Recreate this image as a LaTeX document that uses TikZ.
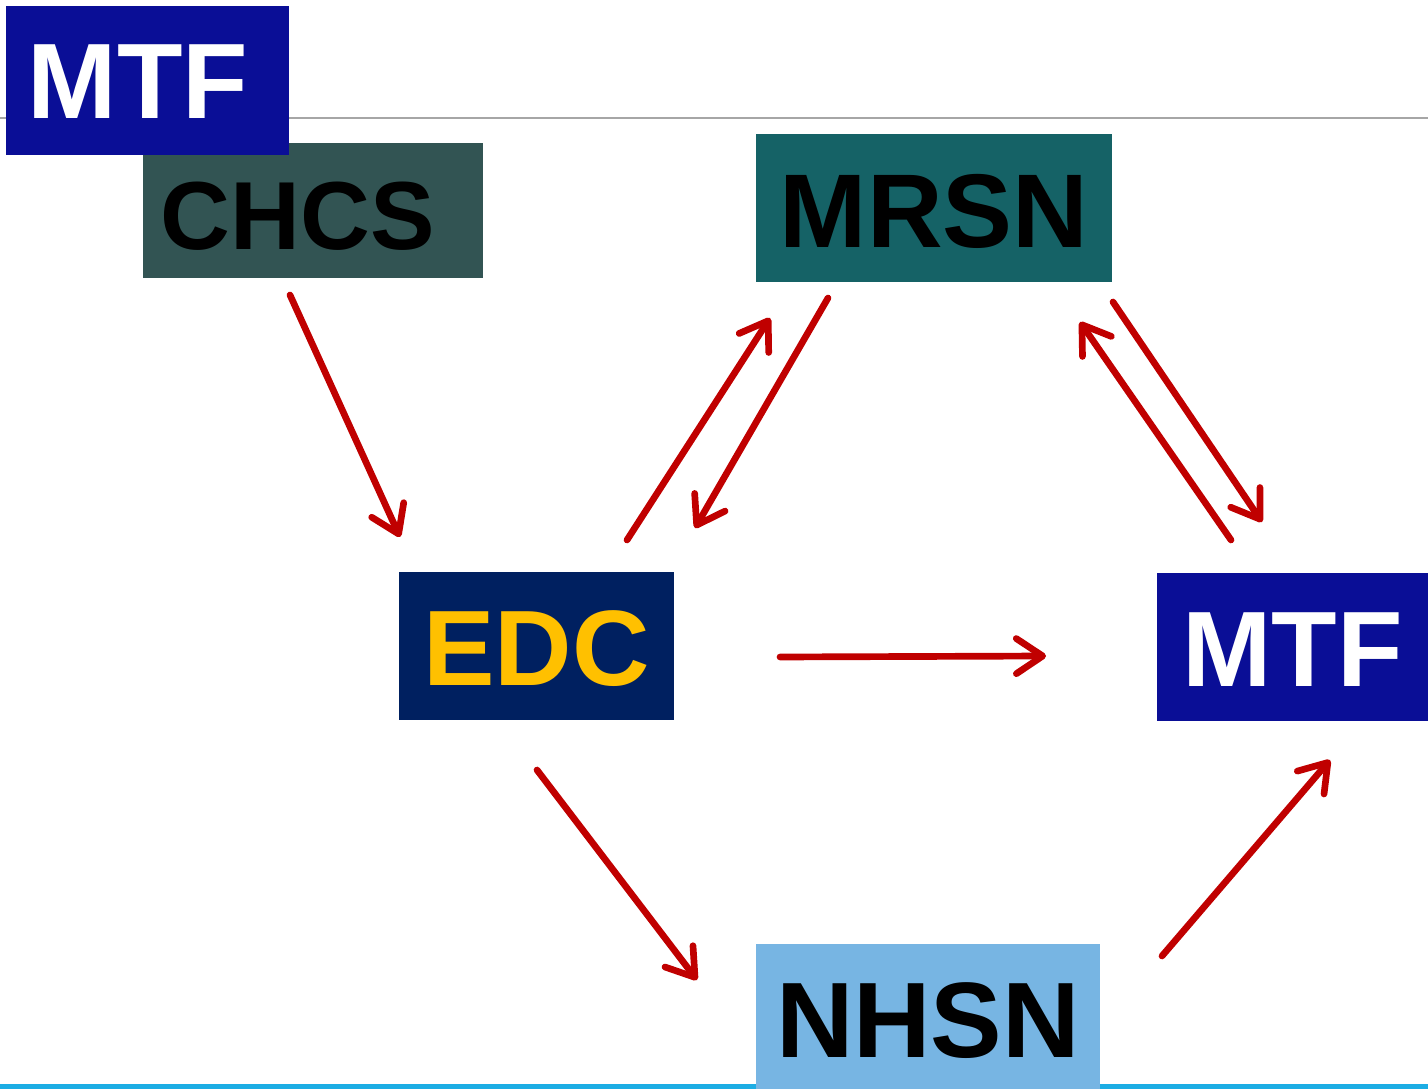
\documentclass[tikz,border=0pt]{standalone}
\usepackage{fontspec}
\setmainfont{Liberation Sans}
\usepackage{tikz}
\usetikzlibrary{positioning}
\usetikzlibrary{arrows.meta}

\definecolor{mtfblue}{HTML}{0A0E96}
\definecolor{chcsgray}{HTML}{325453}
\definecolor{mrsnteal}{HTML}{156266}
\definecolor{edcnavy}{HTML}{002060}
\definecolor{edcgold}{HTML}{FFC000}
\definecolor{nhsnblue}{HTML}{77B5E3}
\definecolor{flowred}{HTML}{C00000}
\definecolor{rulecyan}{HTML}{1CADE4}

\begin{document}
\begin{tikzpicture}[x=0.01cm,y=-0.01cm]

\tikzset{sys box/.style={
		rectangle,
		fill=#1,
		inner sep=0pt,
		anchor=center,
		text height=22.6pt,
		font=\bfseries\fontsize{30.5}{30.5}\selectfont
	},
	flow/.style={
		draw=flowred,
		line width=1.9pt,
		line cap=round,
		-{Straight Barb[round,length=7.5pt,width=10pt]}
	}
}

\useasboundingbox (0,0) rectangle (1428,1089);
\draw[gray!70, line width=0.6pt] (0,118) -- (1428,118);
\draw[rulecyan, line width=1.4pt] (0,1086.5) -- (1428,1086.5);

\node[sys box=chcsgray, text width=3.04cm, align=left, inner xsep=0.18cm,
	minimum height=1.35cm, font=\bfseries\fontsize{27.5}{27.5}\selectfont] (chcs) at (313,210.5) {CHCS};
\node[sys box=mtfblue, text=white, text width=2.39cm, align=left, inner xsep=0.22cm,
	minimum height=1.49cm, text height=21.8pt] (mtf top) at (147.5,80.5) {MTF};
\node[sys box=mrsnteal, minimum width=3.56cm, minimum height=1.48cm,
	font=\bfseries\fontsize{29.8}{29.8}\selectfont] (mrsn) at (934,208) {MRSN};
\node[sys box=edcnavy, text=edcgold, minimum width=2.75cm, minimum height=1.48cm] (edc) at (536.5,646) {EDC};
\node[sys box=mtfblue, text=white, minimum width=2.71cm, minimum height=1.48cm] (mtf) at (1292.5,647) {MTF};
\node[sys box=nhsnblue, minimum width=3.44cm, minimum height=1.45cm, text height=23.4pt] (nhsn) at (928,1016.5) {NHSN};

\coordinate (chcs out) at (290,295);
\coordinate (edc in) at (400,537);
\coordinate (edc up) at (627,540);
\coordinate (mrsn in) at (770,318);
\coordinate (mrsn down) at (828,298);
\coordinate (edc back) at (695,528);
\coordinate (mrsn out) at (1113,302);
\coordinate (mtf in) at (1262,522);
\coordinate (mtf up) at (1231,540);
\coordinate (mrsn back) at (1080,322);
\coordinate (edc right) at (780,657);
\coordinate (mtf left) at (1046,656);
\coordinate (edc down) at (537,770);
\coordinate (nhsn in) at (697,980);
\coordinate (nhsn out) at (1162,956);
\coordinate (mtf below) at (1330,760);

\draw[flow] (chcs out) -- (edc in);
\draw[flow] (edc up) -- (mrsn in);
\draw[flow] (mrsn down) -- (edc back);
\draw[flow] (mrsn out) -- (mtf in);
\draw[flow] (mtf up) -- (mrsn back);
\draw[flow] (edc right) -- (mtf left);
\draw[flow] (edc down) -- (nhsn in);
\draw[flow] (nhsn out) -- (mtf below);
\end{tikzpicture}
\end{document}
